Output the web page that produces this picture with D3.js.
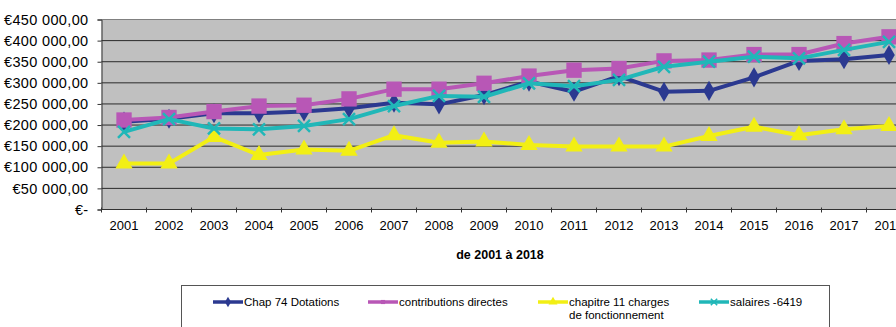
<!DOCTYPE html>
<html>
<head>
<meta charset="utf-8">
<script src="https://cdn.jsdelivr.net/npm/d3@7"></script>
<style>
  body { margin: 0; background: #fff; }
  svg { display: block; font-family: "Liberation Sans", Arial, sans-serif; }
</style>
</head>
<body>
<div id="svg-container"></div>
<script>
// data
const years = ["2001","2002","2003","2004","2005","2006","2007","2008","2009","2010","2011","2012","2013","2014","2015","2016","2017","2018"];
const dotations = [208000,215000,228000,228000,232000,240000,253000,249000,271000,303000,279000,316000,279000,281000,313000,352000,356000,366000];
const contributions = [212000,218000,232000,245000,247000,262000,285000,285000,299000,316000,330000,334000,352000,354000,367000,367000,393000,409000];
const charges = [109000,109000,172000,129000,142000,139000,176000,158000,161000,153000,149000,149000,149000,174000,196000,176000,190000,198000];
const salaires = [184000,214000,192000,190000,198000,214000,245000,269000,267000,299000,292000,307000,338000,350000,362000,358000,378000,397000];
const yTicks = [0,50000,100000,150000,200000,250000,300000,350000,400000,450000];

const series = [
  { name: ["Chap 74 Dotations"], values: dotations, color: "#2b3990", shape: "diamond" },
  { name: ["contributions directes"], values: contributions, color: "#b857b6", shape: "square" },
  { name: ["chapitre 11 charges", "de fonctionnement"], values: charges, color: "#f2ef14", shape: "triangle" },
  { name: ["salaires -6419"], values: salaires, color: "#20b7b8", shape: "cross" }
];

const width = 896, height = 327;
const margin = { top: 19.5, left: 101.5, bottom: 209.5 };

const svg = d3.select("#svg-container").append("svg")
  .attr("width", width).attr("height", height);

const x = d3.scaleBand().domain(years).range([margin.left, margin.left + 45 * years.length]);
const y = d3.scaleLinear().domain([0, 450000]).range([margin.bottom, margin.top]);

// plot background
svg.append("rect")
  .attr("x", margin.left).attr("y", margin.top)
  .attr("width", x.range()[1] - margin.left)
  .attr("height", margin.bottom - margin.top)
  .attr("fill", "#c0c0c0");

// gridlines
svg.append("g")
  .selectAll("line")
  .data(yTicks.slice(1))
  .join("line")
  .attr("x1", margin.left).attr("x2", x.range()[1])
  .attr("y1", d => y(d)).attr("y2", d => y(d))
  .attr("stroke", d => d === 450000 ? "#808080" : "#2a2a2a")
  .attr("stroke-width", 1);

// y axis
const fmt = d => d === 0 ? "€-" : "€" + d3.format(",")(d).replace(/,/g, " ") + ",00";
const yAxis = d3.axisLeft(y).tickValues(yTicks).tickSize(4).tickPadding(9).tickFormat(fmt);
svg.append("g")
  .attr("transform", `translate(${margin.left},0)`)
  .call(yAxis)
  .call(g => g.select(".domain").attr("stroke", "#333"))
  .call(g => g.selectAll(".tick line").attr("stroke", "#333"))
  .call(g => g.selectAll("text").attr("font-size", 14.5).attr("letter-spacing", "0.35px").attr("fill", "#000").style("font-family", "Liberation Sans, Arial, sans-serif"));

// x axis
const xAxis = d3.axisBottom(x).tickSize(0).tickPadding(11);
const gx = svg.append("g")
  .attr("transform", `translate(0,${margin.bottom})`)
  .call(xAxis)
  .call(g => g.select(".domain").attr("stroke", "#333").attr("d", `M${margin.left},0H${x.range()[1]}`))
  .call(g => g.selectAll("text").attr("font-size", 13).attr("fill", "#000").style("font-family", "Liberation Sans, Arial, sans-serif"));

gx.selectAll(".sep")
  .data(years)
  .join("line")
  .attr("x1", d => x(d)).attr("x2", d => x(d))
  .attr("y1", -2).attr("y2", 3)
  .attr("stroke", "#333");

svg.append("text")
  .attr("x", 500).attr("y", 259)
  .attr("text-anchor", "middle")
  .attr("font-size", 12.5).attr("font-weight", "bold")
  .text("de 2001 à 2018");

// markers
function marker(g, shape, color, s) {
  if (shape === "diamond") {
    g.append("path").attr("d", d3.symbol(d3.symbolDiamond, s * 9)()).attr("fill", color);
  } else if (shape === "square") {
    g.append("rect").attr("x", -s / 1.7).attr("y", -s / 1.7).attr("width", s * 1.18).attr("height", s * 1.18).attr("fill", color);
  } else if (shape === "triangle") {
    g.append("path").attr("d", d3.symbol(d3.symbolTriangle, s * 10)()).attr("fill", color);
  } else {
    g.append("path").attr("d", d3.symbol(d3.symbolX, s * 8)())
      .attr("fill", "none").attr("stroke", color).attr("stroke-width", s > 6 ? 2.5 : 1.5);
  }
}

const line = d3.line().x((d, i) => x(years[i]) + x.bandwidth() / 2).y(d => y(d));

series.forEach(s => {
  const g = svg.append("g");
  g.append("path")
    .datum(s.values)
    .attr("d", line)
    .attr("fill", "none")
    .attr("stroke", s.color)
    .attr("stroke-width", 4)
    .attr("stroke-linejoin", "round");
  s.values.forEach((v, i) => {
    const m = g.append("g")
      .attr("transform", `translate(${x(years[i]) + x.bandwidth() / 2},${y(v)})`);
    marker(m, s.shape, s.color, s.shape === "cross" ? 12 : 13);
  });
});

// legend
const legend = svg.append("g");
legend.append("rect")
  .attr("x", 181.5).attr("y", 285.5)
  .attr("width", 648).attr("height", 60)
  .attr("fill", "#fff").attr("stroke", "#555");

const legendX = [213, 368, 538, 699];
series.forEach((s, i) => {
  const lg = legend.append("g").attr("transform", `translate(${legendX[i]},302)`);
  lg.append("line").attr("x1", 0).attr("x2", 30).attr("y1", 0).attr("y2", 0)
    .attr("stroke", s.color).attr("stroke-width", 3.5);
  const mk = lg.append("g").attr("transform", "translate(15,0)");
  marker(mk, s.shape, s.color, 3.5);
  lg.append("text")
    .attr("x", 31).attr("y", 4)
    .attr("font-size", 11.5)
    .selectAll("tspan")
    .data(s.name)
    .join("tspan")
    .attr("x", 31)
    .attr("dy", (d, j) => j ? 13 : 0)
    .text(d => d);
});
</script>
</body>
</html>
